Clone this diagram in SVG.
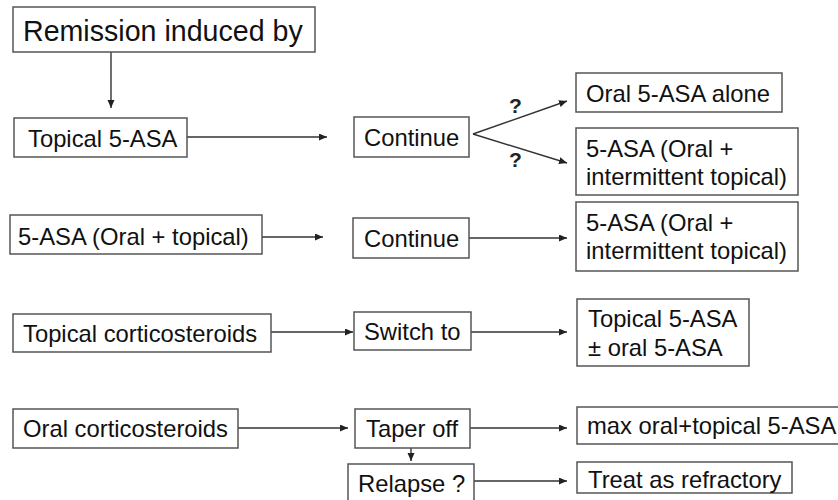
<svg xmlns="http://www.w3.org/2000/svg" width="838" height="500" viewBox="0 0 838 500">
<style>
.box{fill:#fff;stroke:#555;stroke-width:1.5}
.t{font-family:"Liberation Sans",Arial,sans-serif;font-size:23.8px;fill:#111}
.big{font-size:28.6px}
.q{font-family:"Liberation Sans",Arial,sans-serif;font-size:21px;font-weight:bold;fill:#222}
.c{stroke:#333;stroke-width:1.4;fill:none;marker-end:url(#ah)}
</style>
<defs>
<marker id="ah" markerUnits="userSpaceOnUse" markerWidth="9" markerHeight="8" refX="8" refY="3.5" orient="auto">
<path d="M0,0 L8,3.5 L0,7 z" fill="#222"/>
</marker>
</defs>
<rect width="838" height="500" fill="#fff"/>
<g id="connectors">
<line class="c" x1="111" y1="52" x2="111" y2="108"/>
<line class="c" x1="187" y1="137" x2="327" y2="137"/>
<line class="c" x1="473" y1="134" x2="567" y2="101"/>
<line class="c" x1="473" y1="134" x2="567" y2="163"/>
<line class="c" x1="262" y1="237" x2="323" y2="237"/>
<line class="c" x1="469" y1="238" x2="567" y2="238"/>
<line class="c" x1="271" y1="332" x2="353" y2="332"/>
<line class="c" x1="471" y1="332" x2="567" y2="332"/>
<line class="c" x1="238" y1="428" x2="348" y2="428"/>
<line class="c" x1="470" y1="428" x2="567" y2="428"/>
<line class="c" x1="411" y1="448" x2="411" y2="461"/>
<line class="c" x1="474" y1="481" x2="567" y2="481"/>
<text class="q" x="509" y="113">?</text>
<text class="q" x="509" y="167">?</text>
</g>
<g id="remission"><rect class="box" x="13" y="7" width="302" height="45"/><text class="t big" x="23" y="41">Remission induced by</text></g>
<g id="topical5asa"><rect class="box" x="14" y="118" width="173" height="39"/><text class="t" x="28" y="147">Topical 5-ASA</text></g>
<g id="continue1"><rect class="box" x="354" y="117" width="115" height="40"/><text class="t" x="364" y="146">Continue</text></g>
<g id="oral5asaalone"><rect class="box" x="576" y="73" width="206" height="39"/><text class="t" x="586" y="102">Oral 5-ASA alone</text></g>
<g id="oralinter1"><rect class="box" x="576" y="128" width="222" height="67"/><text class="t" x="586" y="157">5-ASA (Oral +</text><text class="t" x="586" y="185">intermittent topical)</text></g>
<g id="oraltopical"><rect class="box" x="10" y="215" width="252" height="39"/><text class="t" x="18" y="245">5-ASA (Oral + topical)</text></g>
<g id="continue2"><rect class="box" x="353" y="218" width="116" height="40"/><text class="t" x="364" y="247">Continue</text></g>
<g id="oralinter2"><rect class="box" x="576" y="202" width="222" height="69"/><text class="t" x="586" y="231">5-ASA (Oral +</text><text class="t" x="586" y="259">intermittent topical)</text></g>
<g id="topcort"><rect class="box" x="13" y="314" width="258" height="38"/><text class="t" x="23" y="342">Topical corticosteroids</text></g>
<g id="switchto"><rect class="box" x="354" y="312" width="117" height="38"/><text class="t" x="364" y="340">Switch to</text></g>
<g id="topoptional"><rect class="box" x="577" y="299" width="172" height="67"/><text class="t" x="588" y="327">Topical 5-ASA</text><text class="t" x="588" y="356">± oral 5-ASA</text></g>
<g id="oralcort"><rect class="box" x="13" y="409" width="225" height="39"/><text class="t" x="23" y="437">Oral corticosteroids</text></g>
<g id="taperoff"><rect class="box" x="355" y="409" width="115" height="39"/><text class="t" x="366" y="437">Taper off</text></g>
<g id="maxoral"><rect class="box" x="577" y="407" width="262" height="37"/><text class="t" x="587" y="434">max oral+topical 5-ASA</text></g>
<g id="relapse"><rect class="box" x="348" y="464" width="126" height="40"/><text class="t" x="358" y="492">Relapse ?</text></g>
<g id="refractory"><rect class="box" x="577" y="462" width="215" height="31"/><text class="t" x="588" y="488">Treat as refractory</text></g>
</svg>
